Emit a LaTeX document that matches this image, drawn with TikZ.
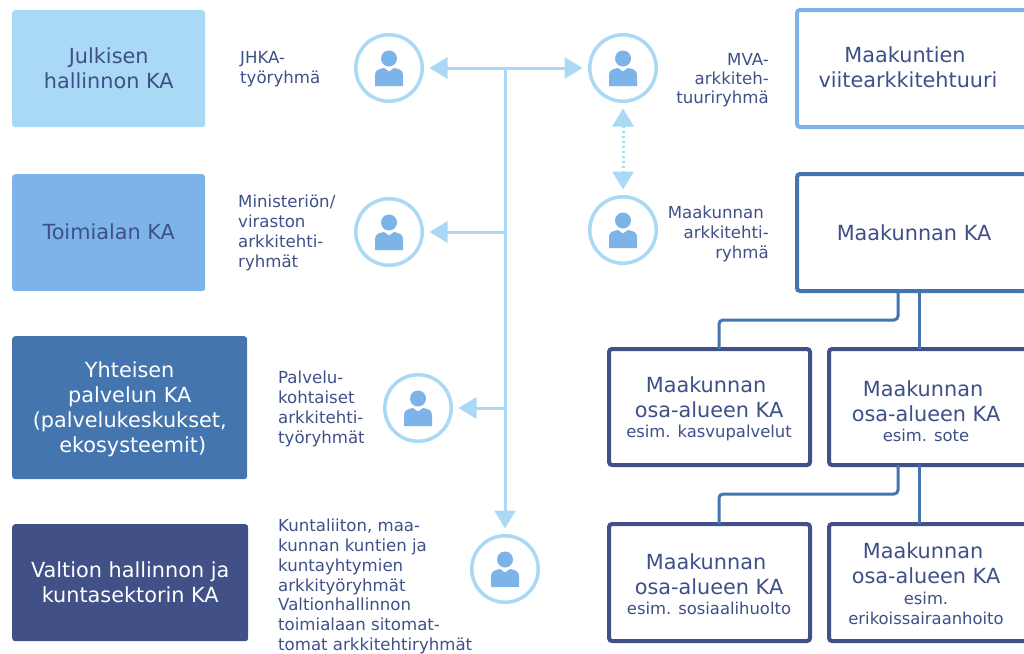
\documentclass[tikz,border=0pt]{standalone}
\usepackage{fontspec}
\setmainfont{DejaVu Sans}
\usetikzlibrary{arrows.meta}
\definecolor{pale}{HTML}{A9D9F5}
\definecolor{midb}{HTML}{7CB4EA}
\definecolor{steel}{HTML}{4475AE}
\definecolor{navy}{HTML}{415086}
\definecolor{ink}{HTML}{3F5088}
\tikzset{
  x=1pt,y=-1pt,
  every node/.style={text=ink,align=center,font=\fontsize{20.8}{25}\selectfont},
  fillbox/.style={rounded corners=3pt,minimum height=117pt,anchor=north west,inner sep=0pt},
  linebox/.style={draw,fill=white,line width=4pt,rounded corners=3pt,anchor=north west,inner sep=0pt,outer sep=0pt},
  subbox/.style={linebox,draw=navy,minimum width=201pt,minimum height=116pt},
  person/.style={circle,draw=pale,line width=3.5pt,fill=white,minimum size=66.5pt,inner sep=0pt},
  lab/.style={align=left,font=\fontsize{16.6}{20}\selectfont,anchor=west,inner sep=0pt},
  labr/.style={align=right,font=\fontsize{16.6}{20}\selectfont,anchor=east,inner sep=0pt},
  conn/.style={draw=pale,line width=3pt,-{Triangle[length=18pt,width=21pt]},shorten >=5.5pt},
  dotconn/.style={draw=pale,line width=3pt,dash pattern=on 2.5pt off 2.5pt,{Triangle[length=18pt,width=21pt]}-{Triangle[length=18pt,width=21pt]},shorten >=5.5pt,shorten <=5.5pt},
  tree/.style={draw=steel,line width=3pt,rounded corners=4pt},
  usericon/.pic={
    \fill[midb] (0,-9.5) circle (8pt);
    \fill[midb] (-14,18) -- (-14,7) .. controls (-14,2) and (-10,1) .. (-5,0) -- (0,3.5) -- (5,0) .. controls (10,1) and (14,2) .. (14,7) -- (14,18) -- cycle;
  },
}
\newcommand{\esim}[1]{{\fontsize{16.4}{20}\selectfont #1}}
\newcommand{\padr}{\hspace*{6pt}}
\begin{document}
\begin{tikzpicture}
\useasboundingbox (0,0) rectangle (1024,653);
% left boxes
\node[fillbox,fill=pale,minimum width=193pt] (b1) at (12,10) {Julkisen\\hallinnon KA\rule[-2pt]{0pt}{1pt}};
\node[fillbox,fill=midb,minimum width=193pt] (b2) at (12,174) {Toimialan KA\rule[-3pt]{0pt}{1pt}};
\node[fillbox,fill=steel,minimum width=235pt,minimum height=143pt,text=white] (b3) at (12,336) {\rule{0pt}{19pt}Yhteisen\\palvelun KA\\(palvelukeskukset,\\\hspace*{6pt}ekosysteemit)};
\node[fillbox,fill=navy,minimum width=236pt,text=white] (b4) at (12,524) {Valtion hallinnon ja\\kuntasektorin KA};
% right boxes
\begin{scope}
\clip (0,0) rectangle (1024,653);
\node[linebox,draw=midb,minimum width=230pt,minimum height=117pt] (r1) at (797,10) {};
\node[linebox,draw=steel,minimum width=230pt,minimum height=117pt] (r2) at (797,174) {};
\node[subbox] (s1) at (609,349) {};
\node[subbox,minimum width=198pt] (s2) at (829,349) {};
\node[subbox,minimum height=117pt] (s3) at (609,524) {};
\node[subbox,minimum width=198pt,minimum height=117pt] (s4) at (829,524) {};
\end{scope}
% box texts
\node (tr1) at (908,67) {Maakuntien\padr\\viitearkkitehtuuri};
\node (tr2) at (914,233) {Maakunnan KA};
\node (ts1) at (709,409) {Maakunnan\padr\\osa-alueen KA\\[-5pt]\esim{esim. kasvupalvelut}};
\node (ts2) at (926,411) {Maakunnan\padr\\osa-alueen KA\\[-5pt]\esim{esim. sote}};
\node (ts3) at (709,584.5) {Maakunnan\padr\\osa-alueen KA\\[-5pt]\esim{esim. sosiaalihuolto}};
\node (ts4) at (926,583.5) {Maakunnan\padr\\osa-alueen KA\\[-4pt]\esim{esim.}\\[-5pt]\esim{erikoissairaanhoito}};
% tree connectors
\coordinate (tx1) at (898,0);
\coordinate (tx2) at (919,0);
\coordinate (lx) at (719,0);
\draw[tree] (r2.south -| tx1) -- ++(0,29) -| (s1.north -| lx);
\draw[tree] (r2.south -| tx2) -- (s2.north -| tx2);
\draw[tree] (s2.south -| tx1) -- ++(0,29) -| (s3.north -| lx);
\draw[tree] (s2.south -| tx2) -- (s4.north -| tx2);
% people
\node[person] (p1) at (389,68) {};
\node[person] (p2) at (623,68) {};
\node[person] (p3) at (389,232) {};
\node[person] (p4) at (623,230) {};
\node[person] (p5) at (418,408) {};
\node[person] (p6) at (505,569) {};
\foreach \p in {p1,p2,p3,p4,p5,p6} \pic at (\p) {usericon};
% connectors
\coordinate (j1) at (505,68);
\draw[conn] (j1) -- (p1);
\draw[conn] (j1) -- (p2);
\draw[conn] (j1) -- (p6);
\draw[conn] (p3 -| j1) -- (p3);
\draw[conn] (p5 -| j1) -- (p5);
\draw[dotconn] (p2) -- (p4);
% labels
\node[lab] (l1) at (240,69.5) {JHKA-\\työryhmä};
\node[lab] (l2) at (238,232.5) {Ministeriön/\\viraston\\arkkitehti-\\ryhmät};
\node[lab] (l3) at (278,409) {Palvelu-\\kohtaiset\\arkkitehti-\\työryhmät};
\node[lab,font=\fontsize{16.6}{19.7}\selectfont] (l4) at (278,586.5) {Kuntaliiton, maa-\\kunnan kuntien ja\\kuntayhtymien\\arkkityöryhmät\\Valtionhallinnon\\toimialaan sitomat-\\tomat arkkitehtiryhmät};
\node[labr] (l5) at (769,80.5) {MVA-\\[-1pt]arkkiteh-\\[-1pt]tuuriryhmä};
\node[labr] (l6) at (769,234) {Maakunnan\hspace*{5pt}\\arkkitehti-\\ryhmä};
\end{tikzpicture}
\end{document}
